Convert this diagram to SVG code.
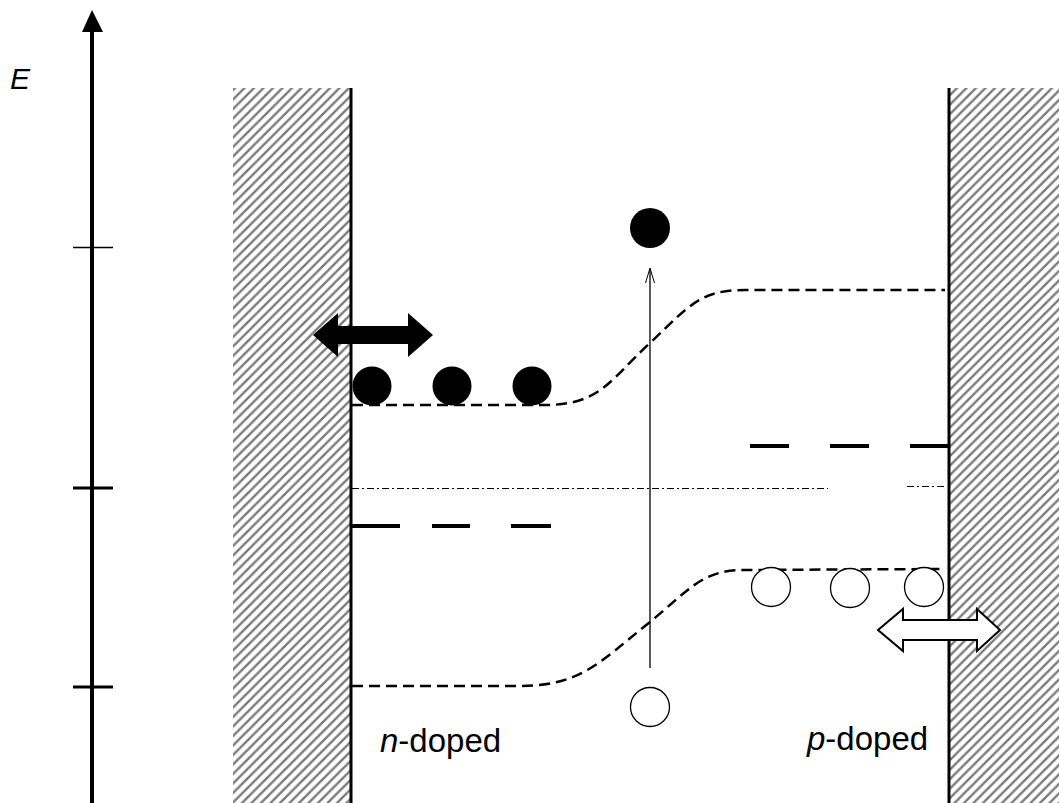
<svg xmlns="http://www.w3.org/2000/svg" width="1059" height="803" viewBox="0 0 1059 803">
<style>
.band{fill:none;stroke:#000;stroke-width:2.5;stroke-dasharray:11 6}
.fermi{fill:none;stroke:#000;stroke-width:1.2;stroke-dasharray:7 3 2 3}
.level{stroke:#000;stroke-width:4}
.wall{stroke:#000;stroke-width:3}
.tick{stroke:#000}
.e{fill:#000}
.h{fill:#fff;stroke:#000;stroke-width:1.3}
.lbl{font-family:"Liberation Sans",Arial,sans-serif;font-size:33px;fill:#000}
</style>
<defs>
<pattern id="hatch" patternUnits="userSpaceOnUse" width="9.5" height="9.5">
<path d="M-1,1 L1,-1 M0,9.5 L9.5,0 M8.5,10.5 L10.5,8.5" stroke="#7a7a7a" stroke-width="2.4"/>
</pattern>
</defs>
<rect width="1059" height="803" fill="#fff"/>
<g id="left-contact">
<rect x="233" y="88" width="117" height="715" fill="url(#hatch)"/>
<line class="wall" x1="351" y1="88" x2="351" y2="803"/>
</g>
<g id="right-contact">
<rect x="950" y="88" width="109" height="715" fill="url(#hatch)"/>
<line class="wall" x1="949" y1="88" x2="949" y2="803"/>
</g>
<g id="energy-axis">
<line x1="92" y1="803" x2="92" y2="28" stroke="#000" stroke-width="4"/>
<polygon points="92,10 82,32 103,32" fill="#000"/>
<line class="tick" x1="73" y1="247.5" x2="113" y2="247.5" stroke-width="1.3"/>
<line class="tick" x1="73" y1="488" x2="113" y2="488" stroke-width="3"/>
<line class="tick" x1="73" y1="687" x2="113" y2="687" stroke-width="3"/>
<text x="10" y="89" font-family="Liberation Sans, Arial, sans-serif" font-size="30" font-style="italic">E</text>
</g>
<g id="connectors">
<path id="conduction-band" class="band" d="M352,405 L545,405 C600,405 610,380 650,343 C690,305 700,290 745,290 L945,290"/>
<path id="valence-band" class="band" d="M352,686 L520,686 C580,686 600,662 645,626 C690,590 700,570 745,570 L945,569"/>
<line id="fermi-level" class="fermi" x1="352" y1="488.5" x2="828" y2="488.5"/>
<line class="fermi" x1="907" y1="486.5" x2="945" y2="486.5"/>
<g id="donor-levels">
<line class="level" x1="352" y1="526" x2="400" y2="526"/>
<line class="level" x1="432" y1="526" x2="470" y2="526"/>
<line class="level" x1="511" y1="526" x2="551" y2="526"/>
</g>
<g id="acceptor-levels">
<line class="level" x1="750" y1="446" x2="789" y2="446"/>
<line class="level" x1="830" y1="446" x2="869" y2="446"/>
<line class="level" x1="910" y1="446" x2="948" y2="446"/>
</g>
<g id="excitation-arrow">
<line x1="650" y1="668" x2="650" y2="269" stroke="#000" stroke-width="1.3"/>
<path d="M645.5,283 L650,268 L654.5,283" fill="none" stroke="#000" stroke-width="1"/>
</g>
</g>
<g id="electrons">
<circle class="e" cx="372" cy="386" r="19.5"/>
<circle class="e" cx="452" cy="386" r="19.5"/>
<circle class="e" cx="532" cy="386" r="19.5"/>
<circle class="e" cx="650" cy="228" r="20"/>
</g>
<g id="holes">
<circle class="h" cx="771" cy="587" r="19.5"/>
<circle class="h" cx="850" cy="588" r="19.5"/>
<circle class="h" cx="924" cy="587" r="19.5"/>
<circle class="h" cx="650" cy="707" r="19.5"/>
</g>
<g id="electron-exchange-arrow">
<polygon points="313,335 338,313 338,326 408,326 408,313 433,335 408,357 408,344 338,344 338,357" fill="#000"/>
</g>
<g id="hole-exchange-arrow">
<polygon points="878,630 903,609 903,620 977,620 977,609 1000,630 977,651 977,640 903,640 903,651" fill="#fff" stroke="#000" stroke-width="2" stroke-linejoin="miter"/>
</g>
<g id="label-n">
<text class="lbl" x="380" y="752"><tspan font-style="italic">n</tspan>-doped</text>
</g>
<g id="label-p">
<text class="lbl" x="807" y="750"><tspan font-style="italic">p</tspan>-doped</text>
</g>
</svg>
